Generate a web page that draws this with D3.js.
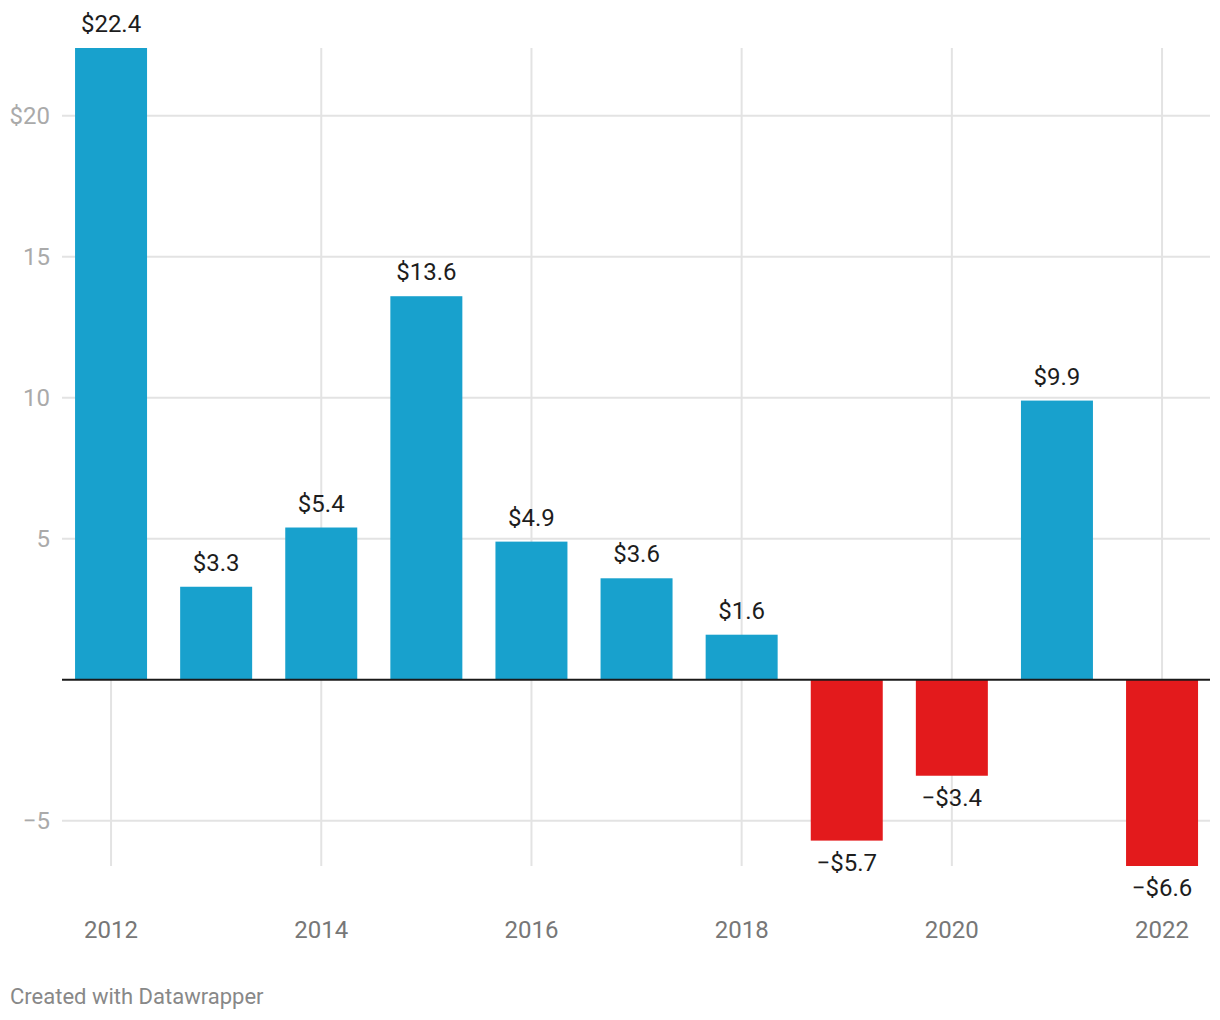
<!DOCTYPE html>
<html>
<head>
<meta charset="utf-8">
<script src="https://cdn.jsdelivr.net/npm/d3@7"></script>
<style>
  html, body { margin: 0; padding: 0; background: #fff; }
  svg { display: block; font-family: Roboto, "Noto Sans", sans-serif; }
</style>
</head>
<body>
<svg id="chart" width="1220" height="1020"></svg>
<script>
const years = [2012, 2013, 2014, 2015, 2016, 2017, 2018, 2019, 2020, 2021, 2022];
const values = [22.4, 3.3, 5.4, 13.6, 4.9, 3.6, 1.6, -5.7, -3.4, 9.9, -6.6];
const xTickYears = [2012, 2014, 2016, 2018, 2020, 2022];
const yTickValues = [20, 15, 10, 5, -5];
const yTickLabels = ["$20", "15", "10", "5", "\u22125"];
const footer = "Created with Datawrapper";

const posColor = "#18a1cd", negColor = "#e31a1c";

const svg = d3.select("#chart");

const x = d3.scaleBand().domain(years).range([58.5, 1214.6]).paddingInner(0.315).paddingOuter(0.1575);
const y = d3.scaleLinear().domain([-6.6, 22.4]).range([866, 48]);

const gridLeft = 62, gridRight = 1210;

// horizontal gridlines
svg.append("g").selectAll("line").data(yTickValues).join("line")
  .attr("x1", gridLeft).attr("x2", gridRight)
  .attr("y1", d => y(d)).attr("y2", d => y(d))
  .attr("stroke", "#e3e3e3").attr("stroke-width", 2);

// vertical gridlines
svg.append("g").selectAll("line").data(xTickYears).join("line")
  .attr("x1", d => x(d) + x.bandwidth() / 2).attr("x2", d => x(d) + x.bandwidth() / 2)
  .attr("y1", y(22.4)).attr("y2", y(-6.6))
  .attr("stroke", "#e3e3e3").attr("stroke-width", 2);

// y labels
svg.append("g").selectAll("text").data(yTickValues).join("text")
  .attr("x", 50).attr("y", d => y(d)).attr("dy", "0.35em")
  .attr("text-anchor", "end")
  .attr("font-size", 24).attr("fill", "#aaaaaa")
  .text((d, i) => yTickLabels[i]);

// bars
svg.append("g").selectAll("rect").data(years).join("rect")
  .attr("x", d => x(d))
  .attr("width", x.bandwidth())
  .attr("y", (d, i) => y(Math.max(0, values[i])))
  .attr("height", (d, i) => Math.abs(y(values[i]) - y(0)))
  .attr("fill", (d, i) => values[i] >= 0 ? posColor : negColor);

// zero line
svg.append("line")
  .attr("x1", gridLeft).attr("x2", gridRight)
  .attr("y1", y(0)).attr("y2", y(0))
  .attr("stroke", "#1a1a1a").attr("stroke-width", 2);

// value labels
const fmt = v => (v < 0 ? "\u2212$" : "$") + Math.abs(v).toFixed(1);
svg.append("g").selectAll("text").data(years).join("text")
  .attr("x", d => x(d) + x.bandwidth() / 2)
  .attr("y", (d, i) => values[i] >= 0 ? y(values[i]) - 16 : y(values[i]) + 30)
  .attr("text-anchor", "middle")
  .attr("font-size", 24).attr("fill", "#1d1d1d")
  .text((d, i) => fmt(values[i]));

// x labels
svg.append("g").selectAll("text").data(xTickYears).join("text")
  .attr("x", d => x(d) + x.bandwidth() / 2)
  .attr("y", 938)
  .attr("text-anchor", "middle")
  .attr("font-size", 24).attr("fill", "#777777")
  .text(d => d);

// footer
svg.append("text")
  .attr("x", 10).attr("y", 1004)
  .attr("font-size", 22).attr("fill", "#888888")
  .text(footer);
</script>
</body>
</html>
